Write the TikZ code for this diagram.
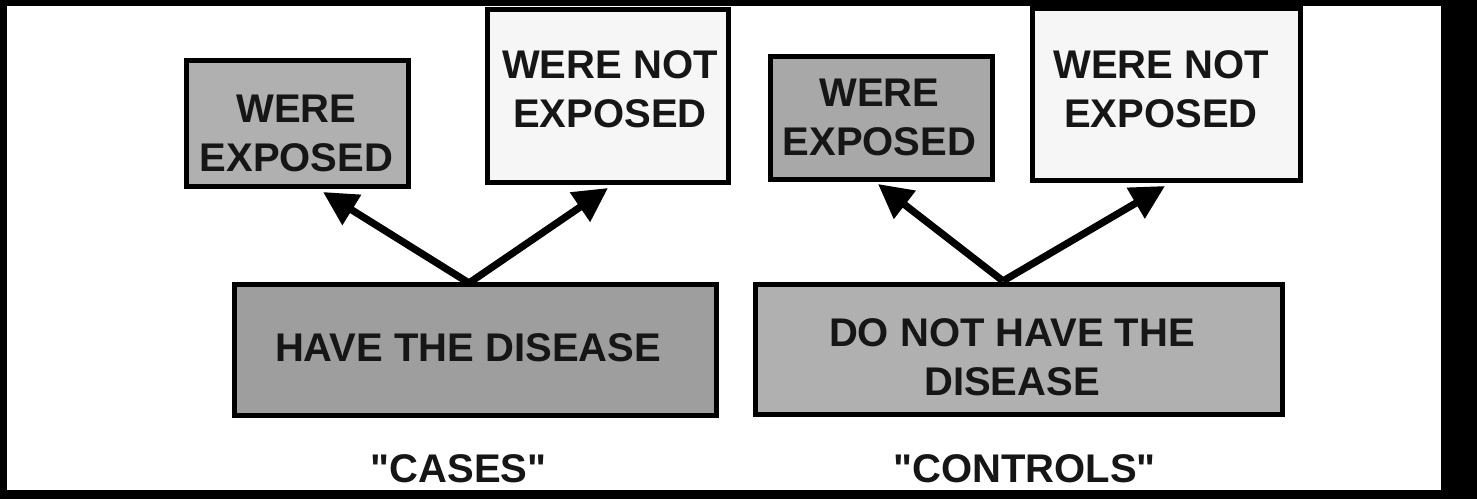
\documentclass[tikz,border=0pt]{standalone}
\usepackage{fontspec}
\setmainfont{Liberation Sans}[Ligatures=TeXOff]
\usetikzlibrary{arrows.meta}
\definecolor{fillA}{RGB}{176,176,176}
\definecolor{fillB}{RGB}{246,246,246}
\definecolor{fillC}{RGB}{168,168,168}
\definecolor{fillE}{RGB}{158,158,158}
\definecolor{fillF}{RGB}{176,176,176}
\definecolor{ink}{RGB}{22,22,22}
\begin{document}
\begin{tikzpicture}[x=0.5pt,y=-0.5pt,
  box/.style={draw=black, line width=2.4pt, inner sep=0pt, outer sep=0pt},
  lbl/.style={font=\fontsize{20pt}{24.5pt}\selectfont\bfseries, align=center, inner sep=0pt, text=ink},
  arr/.style={line width=3.6pt, draw=black, -{Triangle[length=17pt,width=17pt]}}]
\useasboundingbox (0,0) rectangle (1477,499);
% frame around the sheet
\fill[black] (0,0) rectangle (1477,499);
\fill[white] (7,6) rectangle (1441,490);

% cases
\node[box, fill=fillA, minimum width=111.1pt, minimum height=63.1pt] (A) at (297.5,123.5) {};
\node[box, fill=fillB, minimum width=120.6pt, minimum height=86.6pt] (B) at (608,96) {};
\node[box, fill=fillE, minimum width=241.1pt, minimum height=65.6pt] (E) at (475.5,350) {};
% controls
\node[box, fill=fillC, minimum width=111.1pt, minimum height=61.6pt] (C) at (881.5,118) {};
\node[box, fill=fillB, minimum width=134.1pt, minimum height=86.1pt] (D) at (1166.5,94.5) {};
\node[box, fill=fillF, minimum width=263.6pt, minimum height=65.1pt] (F) at (1019,349.5) {};

% box texts
\node[lbl] (Atx) at (296.5,133.5) {WERE\\EXPOSED};
\node[lbl] (Btx) at (610,89) {WERE NOT\\EXPOSED};
\node[lbl] (Etx) at (468,348) {HAVE THE DISEASE};
\node[lbl] (Ctx) at (879.5,117.5) {WERE\\EXPOSED};
\node[lbl] (Dtx) at (1161,89.5) {WERE NOT\\EXPOSED};
\node[lbl] (Ftx) at (1012,357) {DO NOT HAVE THE\\DISEASE};

% group captions
\node[lbl] (cases) at (458.5,469) {"CASES"};
\node[lbl] (controls) at (1024.5,469) {"CONTROLS"};

% arrow ends
\coordinate (eApex) at (469,283);
\coordinate (aTip) at (323,192);
\coordinate (bTip) at (608,188);
\coordinate (fApex) at (1003,281);
\coordinate (cTip) at (878,184);
\coordinate (dTip) at (1165,186);

\draw[arr] (eApex) -- (aTip);
\draw[arr] (eApex) -- (bTip);
\draw[arr] (fApex) -- (cTip);
\draw[arr] (fApex) -- (dTip);
\end{tikzpicture}
\end{document}
